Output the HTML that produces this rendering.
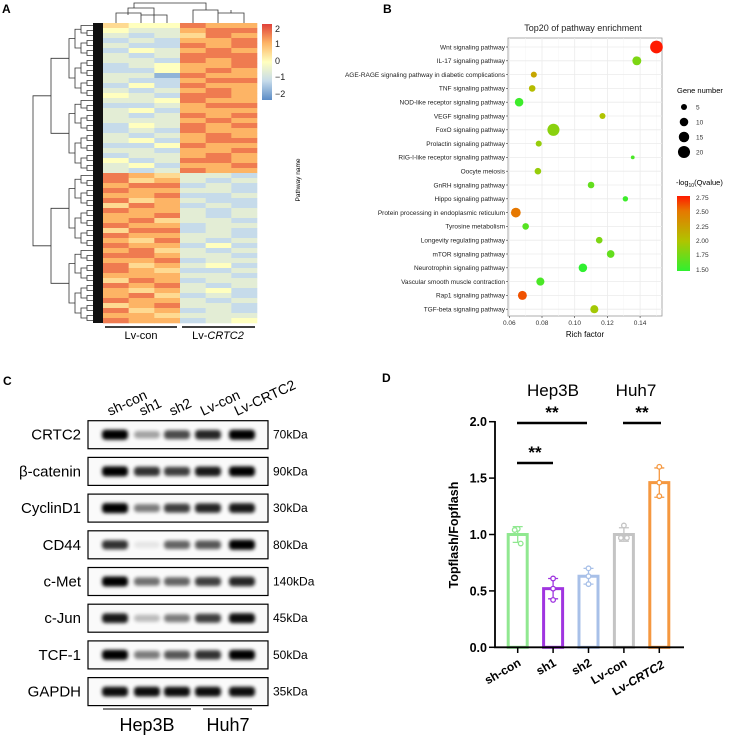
<!DOCTYPE html>
<html><head><meta charset="utf-8"><style>
body{margin:0;background:#fff;}
svg{display:block;font-family:"Liberation Sans",Arial,sans-serif;}
</style></head><body>
<svg id="fig" width="736" height="735" viewBox="0 0 736 735" xmlns="http://www.w3.org/2000/svg">
<defs>
<filter id="blur" x="-30%" y="-100%" width="160%" height="300%"><feGaussianBlur stdDeviation="1.8"/></filter>
<linearGradient id="hmGrad" x1="0" y1="0" x2="0" y2="1">
<stop offset="0" stop-color="#e0413a"/><stop offset="0.25" stop-color="#fdb465"/><stop offset="0.5" stop-color="#ffffbf"/><stop offset="0.75" stop-color="#c6dbea"/><stop offset="1" stop-color="#5b8cc6"/></linearGradient>
<linearGradient id="qGrad" x1="0" y1="0" x2="0" y2="1">
<stop offset="0" stop-color="#ff1a00"/><stop offset="0.2" stop-color="#e67800"/><stop offset="0.6" stop-color="#b0c400"/><stop offset="1" stop-color="#30f030"/></linearGradient>
</defs>
<g id="panelA">
<text x="2" y="13" font-size="12" font-weight="bold">A</text>
<g id="hm"></g>
<rect x="262" y="24" width="10" height="76" fill="url(#hmGrad)"/>
<g font-size="9" fill="#222">
<text x="275" y="32">2</text><text x="275" y="47">1</text><text x="275" y="64">0</text><text x="275" y="80">−1</text><text x="275" y="97">−2</text></g>
<text transform="translate(300,180) rotate(-90)" font-size="6.5" text-anchor="middle">Pathway name</text>
<line x1="105" y1="327" x2="177" y2="327" stroke="#000" stroke-width="1.5"/>
<line x1="182" y1="327" x2="255" y2="327" stroke="#000" stroke-width="1.5"/>
<text x="141" y="339" font-size="11" text-anchor="middle">Lv-con</text>
<text x="218" y="339" font-size="11" text-anchor="middle">Lv-<tspan font-style="italic">CRTC2</tspan></text>
</g>
<g id="panelB">
<text x="383" y="13" font-size="12" font-weight="bold">B</text>
<text x="583" y="31" font-size="9" text-anchor="middle" fill="#222">Top20 of pathway enrichment</text>
<g id="bplot"></g>
<text x="585" y="337" font-size="8" text-anchor="middle">Rich factor</text>
<text x="677" y="93" font-size="7.5">Gene number</text>
<g id="sizeLegend"></g>
<text x="676" y="185" font-size="7.5">-log<tspan font-size="5" dy="2">10</tspan><tspan dy="-2">(Qvalue)</tspan></text>
<rect x="677" y="196" width="13" height="75" fill="url(#qGrad)"/>
<g font-size="6.5" fill="#333">
<text x="696" y="200">2.75</text><text x="696" y="214">2.50</text><text x="696" y="229">2.25</text><text x="696" y="243">2.00</text><text x="696" y="257">1.75</text><text x="696" y="272">1.50</text></g>
</g>
<g id="panelC">
<text x="3" y="385" font-size="12" font-weight="bold">C</text>
<g id="blot"></g>
<line x1="103" y1="709" x2="191" y2="709" stroke="#000" stroke-width="1"/>
<line x1="203" y1="709" x2="252" y2="709" stroke="#000" stroke-width="1"/>
<text x="147" y="731" font-size="18" text-anchor="middle">Hep3B</text>
<text x="228" y="731" font-size="18" text-anchor="middle">Huh7</text>
</g>
<g id="panelD">
<text x="382" y="382" font-size="12" font-weight="bold">D</text>
<text x="553" y="396" font-size="17" text-anchor="middle">Hep3B</text>
<text x="636" y="396" font-size="17" text-anchor="middle">Huh7</text>
<g id="dplot"></g>
<text transform="translate(458,535) rotate(-90)" font-size="12.5" font-weight="bold" text-anchor="middle">Topflash/Fopflash</text>
</g>
</svg>
<script>
const NS="http://www.w3.org/2000/svg";
function mk(p,t,a){const e=document.createElementNS(NS,t);for(const k in a)e.setAttribute(k,a[k]);p.appendChild(e);return e;}

/* ---------- Panel A heatmap data (digits 0..8 => -2..2) ---------- */
const hmRows=["544766","433677","323576","232667","322767","243676","323777","332767","234667","224676","331766","322677","242766","323676","432776","334766","223677","342666","323767","333676","243767","232766","323676","342677","224766","332667","233676","423776","342667","323766",
"765332","756323","677232","766332","667223","756322","576232","766323","667323","675332","766233","577232","766332","657323","766242","675323","776332","667233","756342","765223","666332","576233","767323","656342","675232","766323","567332","756232","665333","766234"];
const hmCols=["Lv-con-1","Lv-con-2","Lv-con-3","Lv-CRTC2-1","Lv-CRTC2-2","Lv-CRTC2-3"];
const hmStops=[[91,140,198],[198,219,234],[255,255,191],[253,180,101],[224,65,58]];
function hmColor(v){let t=(v+2)/4*4;t=Math.max(0,Math.min(4,t));const i=Math.min(3,Math.floor(t)),f=t-i;const a=hmStops[i],b=hmStops[i+1];return `rgb(${a.map((c,j)=>Math.round(c+(b[j]-c)*f)).join(",")})`;}
const hm=document.getElementById('hm');
const hx0=103,hx1=257,hy0=23,hy1=323;
const cw=(hx1-hx0)/hmCols.length, rh=(hy1-hy0)/hmRows.length;
hmRows.forEach((r,i)=>{for(let j=0;j<hmCols.length;j++){const v=(parseInt(r[j])-4)/2;
const c=mk(hm,'rect',{x:hx0+j*cw,y:hy0+i*rh,width:cw+0.3,height:rh+0.3,fill:hmColor(v)});

}});
mk(hm,'rect',{x:93,y:hy0,width:10,height:hy1-hy0,fill:'#111'});
function dendro(a,b,depth){const mid=(hy0+(a+b)/2*rh);if(b-a<=1){return {y:mid,x:93};}
const m=Math.floor((a+b)/2);const L=dendro(a,m,depth+1),R=dendro(m,b,depth+1);
const x=Math.min(L.x,R.x)-(depth<2?18:6);
mk(hm,'path',{d:`M${L.x} ${L.y}H${x}V${R.y}H${R.x}`,fill:'none',stroke:'#333','stroke-width':0.8});
return {y:(L.y+R.y)/2,x:x};}
dendro(0,hmRows.length,0);
mk(hm,'path',{d:`M116 23V13H141V23 M141 13V15 M128 15V13 M128 13V8H154V15 M154 15V23 M128 13 V13 M167 23V15H154 M141 15H167 M193 23V10H218V23 M218 13H244V23 M231 13V10 M206 10V3H134V8`,fill:'none',stroke:'#333','stroke-width':0.8});

/* ---------- Panel B bubble chart ---------- */
const pathways=["Wnt signaling pathway","IL-17 signaling pathway","AGE-RAGE signaling pathway in diabetic complications","TNF signaling pathway","NOD-like receptor signaling pathway","VEGF signaling pathway","FoxO signaling pathway","Prolactin signaling pathway","RIG-I-like receptor signaling pathway","Oocyte meiosis","GnRH signaling pathway","Hippo signaling pathway","Protein processing in endoplasmic reticulum","Tyrosine metabolism","Longevity regulating pathway","mTOR signaling pathway","Neurotrophin signaling pathway","Vascular smooth muscle contraction","Rap1 signaling pathway","TGF-beta signaling pathway"];
const richFactor=[0.150,0.138,0.075,0.074,0.066,0.117,0.087,0.078,0.1355,0.0775,0.110,0.131,0.064,0.070,0.115,0.122,0.105,0.079,0.068,0.112];
const geneCount=[22,11,5,6,10,5,20,5,2,6,6,4,13,6,6,8,10,9,11,9];
const qValue=[2.75,1.80,2.20,2.05,1.55,2.00,1.85,1.90,1.60,1.90,1.70,1.55,2.50,1.65,1.80,1.70,1.50,1.60,2.60,1.95];
const xTicksB=[0.06,0.08,0.10,0.12,0.14];
const sizeLegend=[5,10,15,20];
const bx0=508,bx1=662,by0=38,by1=316;
const xB=v=>509.3+(v-0.06)/0.02*32.7;
const yB=i=>47+i*13.8;
const rB=n=>1.35*Math.sqrt(n);
const qStops=[[1.5,[48,240,48]],[2.0,[176,196,0]],[2.5,[230,120,0]],[2.75,[255,26,0]]];
function qColor(q){for(let i=0;i<qStops.length-1;i++){const [a,ca]=qStops[i],[b,cb]=qStops[i+1];if(q<=b||i==qStops.length-2){const f=Math.max(0,Math.min(1,(q-a)/(b-a)));return `rgb(${ca.map((c,j)=>Math.round(c+(cb[j]-c)*f)).join(",")})`;}}}
const bp=document.getElementById('bplot');
mk(bp,'rect',{x:bx0,y:by0,width:bx1-bx0,height:by1-by0,fill:'#fff',stroke:'#999','stroke-width':0.8});
xTicksB.forEach((t,i)=>{const x=xB(t);mk(bp,'line',{x1:x,x2:x,y1:by0,y2:by1,stroke:'#ebebeb','stroke-width':0.8});
mk(bp,'line',{x1:x+16.35,x2:x+16.35,y1:by0,y2:by1,stroke:'#f4f4f4','stroke-width':0.5});
mk(bp,'line',{x1:x,x2:x,y1:by1,y2:by1+2,stroke:'#333','stroke-width':0.6});
const tl=mk(bp,'text',{x:x,y:by1+9,'font-size':6.5,'text-anchor':'middle',fill:'#333'});tl.textContent=t.toFixed(2);

});
pathways.forEach((p,i)=>{const y=yB(i);mk(bp,'line',{x1:bx0,x2:bx1,y1:y,y2:y,stroke:'#ebebeb','stroke-width':0.8});
mk(bp,'line',{x1:bx0-2,x2:bx0,y1:y,y2:y,stroke:'#333','stroke-width':0.6});
const t=mk(bp,'text',{x:bx0-3,y:y+2.3,'font-size':6.5,'text-anchor':'end',fill:'#222'});t.textContent=p;

});
pathways.forEach((p,i)=>{const c=mk(bp,'circle',{cx:xB(richFactor[i]),cy:yB(i),r:rB(geneCount[i]),fill:qColor(qValue[i])});

});
const sl=document.getElementById('sizeLegend');
sizeLegend.forEach((n,i)=>{const y=107+i*15;const c=mk(sl,'circle',{cx:684,cy:y,r:rB(n),fill:'#000'});


const t=mk(sl,'text',{x:696,y:y+2.5,'font-size':6.5,fill:'#333'});t.textContent=n;});

/* ---------- Panel C western blot ---------- */
const proteins=["CRTC2","β-catenin","CyclinD1","CD44","c-Met","c-Jun","TCF-1","GAPDH"];
const kda=["70kDa","90kDa","30kDa","80kDa","140kDa","45kDa","50kDa","35kDa"];
const lanes=["sh-con","sh1","sh2","Lv-con","Lv-CRTC2"];
const bandIntensity=[[1,.35,.7,.85,1],[1,.8,.75,.9,1],[1,.5,.75,.85,.9],[.8,.08,.6,.65,1],[1,.55,.6,.75,.85],[.9,.25,.5,.75,.95],[1,.5,.65,.8,1],[.95,.95,.95,.95,.95]];
const laneX=[115,147,177,208,242];
const bl=document.getElementById('blot');
lanes.forEach((l,j)=>{const t=mk(bl,'text',{transform:`translate(${laneX[j]-5},416) rotate(-25)`,'font-size':14});t.textContent=l;

});
proteins.forEach((p,i)=>{const top=420.7+i*36.7;
mk(bl,'rect',{x:88,y:top,width:180,height:28,fill:'#fafafa',stroke:'#000','stroke-width':1.2});
const t=mk(bl,'text',{x:81,y:top+19,'font-size':15,'text-anchor':'end'});t.textContent=p;


const k=mk(bl,'text',{x:273,y:top+18,'font-size':12});k.textContent=kda[i];


bandIntensity[i].forEach((v,j)=>{const b=mk(bl,'rect',{x:laneX[j]-13,y:top+14-3-2*v,width:26,height:6+4*v,rx:3.5,fill:'#000',opacity:v,filter:'url(#blur)'});

});});

/* ---------- Panel D bar chart ---------- */
const dCats=["sh-con","sh1","sh2","Lv-con","Lv-CRTC2"];
const dMeans=[1.00,0.52,0.63,1.00,1.46];
const dPoints=[[1.05,1.04,0.92],[0.61,0.52,0.42],[0.70,0.63,0.56],[1.08,0.97,0.97],[1.60,1.46,1.34]];
const dSD=[0.07,0.09,0.07,0.06,0.13];
const dTicks=[0.0,0.5,1.0,1.5,2.0];
const dColors=["#90e890","#a035e0","#a8c0e8","#c4c4c4","#f59840"];
const dp=document.getElementById('dplot');
const yD=v=>647.3-v*112.8;
const xD=i=>517.7+i*35.4;
dTicks.forEach(t=>{const y=yD(t);mk(dp,'line',{x1:489,x2:495,y1:y,y2:y,stroke:'#000','stroke-width':1.5});
const tl=mk(dp,'text',{x:487,y:y+4.5,'font-size':12.5,'font-weight':'bold','text-anchor':'end'});tl.textContent=t.toFixed(1);

});
dCats.forEach((c,i)=>{const x=xD(i),y=yD(dMeans[i]);
const b=mk(dp,'rect',{x:x-9.5,y:y,width:19,height:yD(0)-y,fill:'none',stroke:dColors[i],'stroke-width':3});


mk(dp,'path',{d:`M${x} ${yD(dMeans[i]+dSD[i])}V${yD(dMeans[i]-dSD[i])}M${x-5} ${yD(dMeans[i]+dSD[i])}h10M${x-5} ${yD(dMeans[i]-dSD[i])}h10`,stroke:dColors[i],'stroke-width':1.3,fill:'none'});
dPoints[i].forEach((v,k)=>{const p=mk(dp,'circle',{cx:x+(k==1?-3:k==2?3:0)*(i==0||i==3?1:0),cy:yD(v),r:2.3,fill:'#fff',stroke:dColors[i],'stroke-width':1.3});

});
mk(dp,'line',{x1:x,x2:x,y1:647,y2:653,stroke:'#000','stroke-width':1.5});
const t=mk(dp,'text',{transform:`translate(${x+4},665) rotate(-30)`,'font-size':12,'font-weight':'bold','text-anchor':'end'});
if(c==="Lv-CRTC2"){t.innerHTML='Lv-<tspan font-style="italic">CRTC2</tspan>';t.setAttribute('transform',`translate(${x+6},667) rotate(-30)`);}else t.textContent=c;

});
mk(dp,'path',{d:'M495 421V647.3H684',fill:'none',stroke:'#000','stroke-width':1.8});
[[517,587,423,410],[623,661,423,410],[517,553,463,450]].forEach(s=>{
mk(dp,'line',{x1:s[0],x2:s[1],y1:s[2],y2:s[2],stroke:'#000','stroke-width':2.5});
const t=mk(dp,'text',{x:(s[0]+s[1])/2,y:s[3]+8,'font-size':17,'font-weight':'bold','text-anchor':'middle'});t.textContent='**';

});
</script>
</body></html>
